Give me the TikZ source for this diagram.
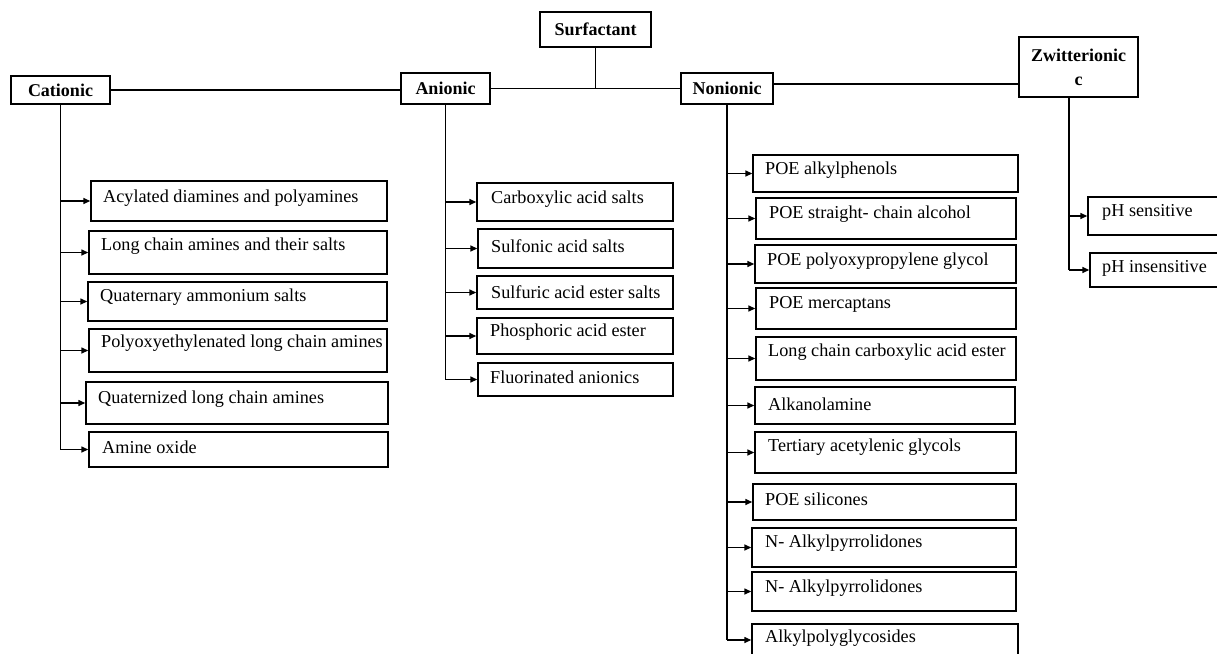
\documentclass[tikz,border=0pt]{standalone}
\usepackage{fontspec}
\setmainfont{Liberation Serif}
\usetikzlibrary{arrows.meta,fit}
\newcommand\mkbox[8]{%
  \node[ibox, fit={(#2,#3) (#4,#5)}] (#1) {};
  \node[itxt, anchor=west] (#1t) at (#6,#7) {#8};
}
\begin{document}
\begin{tikzpicture}[x=1pt,y=-1pt,
  ln/.style={draw=black, line width=1.4pt},
  arr/.style={ln, -{Triangle[length=7pt,width=6pt]}},
  ibox/.style={draw=black, line width=1.4pt, inner sep=0pt, rectangle},
  itxt/.style={inner sep=0pt, font=\fontsize{18.2}{21}\selectfont},
  hbox/.style={draw=black, line width=1.4pt, inner sep=0pt, rectangle, align=center,
    font=\fontsize{18}{24}\selectfont\bfseries}]
\useasboundingbox (0,0) rectangle (1217,653);
\fill[white] (0,0) rectangle (1217,653);
% top-level nodes
\node[hbox, minimum width=111pt, minimum height=35pt] (sur) at (595.5,29.5) {Surfactant};
\node[hbox, minimum width=99pt, minimum height=28pt] (cat) at (60.5,90) {Cationic};
\node[hbox, minimum width=89pt, minimum height=31pt] (ani) at (445.5,88.5) {Anionic};
\node[hbox, minimum width=92pt, minimum height=31pt] (non) at (727,88.5) {Nonionic};
\node[hbox, minimum width=119pt, minimum height=60pt] (zw) at (1078.5,67) {Zwitterionic\\c};
\coordinate (zs) at (1069,97);
% top connectors
\draw[ln] (cat.east) -- (cat.east -| ani.west);
\draw[ln] (ani.east) -- (non.west);
\draw[ln] (sur.south) -- (sur.south |- ani.east);
\draw[ln] ([yshift=4.5pt]non.east) -- ([yshift=4.5pt]non.east -| zw.west);
% Cationic items
\mkbox{c1}{91}{181}{387}{221}{103}{198}{Acylated diamines and polyamines}
\mkbox{c2}{89}{231}{387}{274}{101}{246}{Long chain amines and their salts}
\mkbox{c3}{88}{282}{387}{321}{100}{297}{Quaternary ammonium salts}
\mkbox{c4}{89}{329}{387}{372}{101}{343}{Polyoxyethylenated long chain amines}
\mkbox{c5}{86}{382}{388}{424}{98}{399}{Quaternized long chain amines}
\mkbox{c6}{89}{432}{388}{467}{102}{447}{Amine oxide}
\draw[ln] (cat.south) -- (cat.south |- c6.west);
\foreach \n in {c1,c2,c3,c4,c5,c6} \draw[arr] (cat.south |- \n.west) -- (\n.west);
% Anionic items
\mkbox{a1}{477}{183}{673}{221}{491}{199}{Carboxylic acid salts}
\mkbox{a2}{478}{229}{673}{268}{491}{246}{Sulfonic acid salts}
\mkbox{a3}{477}{276}{673}{309}{491}{292}{Sulfuric acid ester salts}
\mkbox{a4}{477}{318}{673}{354}{490}{332}{Phosphoric acid ester}
\mkbox{a5}{478}{363}{673}{396}{490}{377}{Fluorinated anionics}
\draw[ln] (ani.south) -- (ani.south |- a5.west);
\foreach \n in {a1,a2,a3,a4,a5} \draw[arr] (ani.south |- \n.west) -- (\n.west);
% Nonionic items
\mkbox{n1}{753}{155}{1018}{192}{765}{170}{POE alkylphenols}
\mkbox{n2}{756}{198}{1016}{239}{769}{214}{POE straight- chain alcohol}
\mkbox{n3}{755}{245}{1016}{283}{767}{261}{POE polyoxypropylene glycol}
\mkbox{n4}{756}{288}{1016}{329}{769}{304}{POE mercaptans}
\mkbox{n5}{756}{337}{1016}{380}{768}{352}{Long chain carboxylic acid ester}
\mkbox{n6}{755}{387}{1015}{424}{768}{404}{Alkanolamine}
\mkbox{n7}{755}{432}{1016}{473}{768}{447}{Tertiary acetylenic glycols}
\mkbox{n8}{753}{484}{1016}{520}{765}{499}{POE silicones}
\mkbox{n9}{752}{528}{1016}{567}{765}{543}{N- Alkylpyrrolidones}
\mkbox{n10}{752}{572}{1016}{611}{765}{588}{N- Alkylpyrrolidones}
\mkbox{n11}{752}{624}{1018}{672}{765}{638}{Alkylpolyglycosides}
\draw[ln] (non.south) -- (non.south |- 0,640);
\foreach \n in {n1,n2,n3,n4,n5,n6,n7,n8,n9,n10} \draw[arr] (non.south |- \n.west) -- (\n.west);
\draw[arr] (non.south |- 0,640) -- (n11.west |- 0,640);
% Zwitterionic items
\mkbox{z1}{1088}{197}{1226}{235}{1102}{212}{pH sensitive}
\mkbox{z2}{1090}{253}{1226}{287}{1102}{268}{pH insensitive}
\draw[ln] (zs) -- (zs |- z2.west);
\foreach \n in {z1,z2} \draw[arr] (zs |- \n.west) -- (\n.west);
\end{tikzpicture}
\end{document}
